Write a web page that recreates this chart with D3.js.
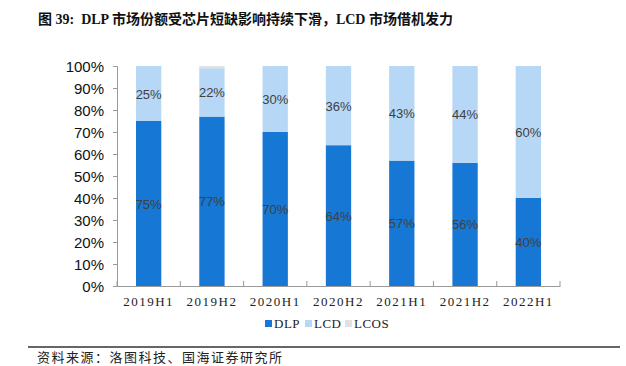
<!DOCTYPE html>
<html><head><meta charset="utf-8">
<script src="https://cdn.jsdelivr.net/npm/d3@7"></script>
<style>body{margin:0;background:#fff}svg{display:block}</style>
</head><body>
<svg id="c" width="626" height="366"></svg>
<script>
const categories = ["2019H1","2019H2","2020H1","2020H2","2021H1","2021H2","2022H1"];
const dlp = [75,77,70,64,57,56,40];
const lcd = [25,22,30,36,43,44,60];
const lcos = [0,1,0,0,0,0,0];
const seriesNames = ["DLP","LCD","LCOS"];
const yTicks = [0,10,20,30,40,50,60,70,80,90,100];
const colors = ["#1777D4","#B7D7F7","#E1E1E1"];

const svg = d3.select("#c");
const m = {l:117, r:560, t:66, b:286};
const x = d3.scaleBand().domain(categories).range([m.l,m.r]).paddingInner(0.6).paddingOuter(0.3);
const y = d3.scaleLinear().domain([0,100]).range([m.b,m.t]);

svg.append("text").attr("x",38).attr("y",24)
  .attr("font-family","'Liberation Serif', 'Noto Sans CJK SC', serif").attr("font-weight","bold")
  .attr("font-size",14).attr("fill","#111").attr("xml:space","preserve")
  .text("图 39:  DLP 市场份额受芯片短缺影响持续下滑，LCD 市场借机发力");

const rows = categories.map((c,i)=>({cat:c, DLP:dlp[i], LCD:lcd[i], LCOS:lcos[i]}));
const stack = d3.stack().keys(seriesNames)(rows);

stack.forEach((s,si)=>{
  svg.append("g").selectAll("rect").data(s).join("rect")
    .attr("x",d=>x(d.data.cat)).attr("width",x.bandwidth())
    .attr("y",d=>y(d[1])).attr("height",d=>y(d[0])-y(d[1]))
    .attr("fill",colors[si]);
  if(si<2){
    svg.append("g").selectAll("text").data(s).join("text")
      .attr("x",d=>x(d.data.cat)+x.bandwidth()/2)
      .attr("y",d=>y((d[0]+d[1])/2)+5)
      .attr("text-anchor","middle").attr("font-family","'Liberation Sans', Arial, sans-serif")
      .attr("font-size",13).attr("fill","#404040")
      .text(d=>(d[1]-d[0])+"%");
  }
});

// y axis
const ya = svg.append("g").attr("transform",`translate(${m.l},0)`)
  .call(d3.axisLeft(y).tickValues(yTicks).tickSize(4).tickFormat(d=>d+"%"));
ya.select(".domain").attr("stroke","#9a9a9a");
ya.selectAll(".tick line").attr("stroke","#9a9a9a");
ya.selectAll("text").attr("font-family","'Liberation Sans', Arial, sans-serif").attr("font-size",15).attr("fill","#111").attr("dx",-6).attr("dy","0.35em");

// x axis
const xa = svg.append("g").attr("transform",`translate(0,${m.b})`)
  .call(d3.axisBottom(x).tickSize(0).tickSizeOuter(0));
xa.select(".domain").attr("stroke","#9a9a9a");
xa.selectAll("text").attr("font-family","'Liberation Serif', serif").attr("font-size",13)
  .attr("letter-spacing","1.5px").attr("fill","#222").attr("dy",0).attr("y",20);
const step = x.step();
svg.append("g").selectAll("line").data(d3.range(categories.length+1)).join("line")
  .attr("x1",i=>m.l+i*step).attr("x2",i=>m.l+i*step)
  .attr("y1",m.b).attr("y2",m.b-5).attr("stroke","#9a9a9a");

// legend
const lx = [265,305,345];
seriesNames.forEach((n,i)=>{
  svg.append("rect").attr("x",lx[i]).attr("y",320).attr("width",7).attr("height",7).attr("fill",colors[i]);
  svg.append("text").attr("x",lx[i]+9).attr("y",328)
    .attr("font-family","'Liberation Serif', serif").attr("font-size",13).attr("fill","#222")
    .attr("letter-spacing","0.5px")
    .text(n);
});

// bottom line and source
svg.append("line").attr("x1",28).attr("x2",620).attr("y1",347).attr("y2",347).attr("stroke","#333").attr("stroke-width",1.5);
svg.append("text").attr("x",37).attr("y",362)
  .attr("font-family","'Noto Sans CJK SC', serif").attr("font-size",13).attr("fill","#222")
  .attr("letter-spacing","1.5px")
  .text("资料来源：洛图科技、国海证券研究所");
</script>
</body></html>
